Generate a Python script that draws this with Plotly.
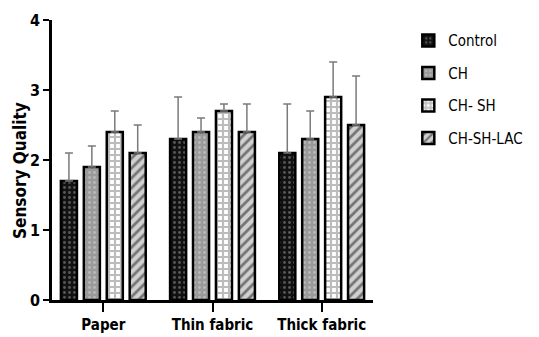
import plotly.graph_objects as go

categories = ["Paper", "Thin fabric", "Thick fabric"]
series_names = ["Control", "CH", "CH- SH", "CH-SH-LAC"]
control = [1.7, 2.3, 2.1]
ch = [1.9, 2.4, 2.3]
ch_sh = [2.4, 2.7, 2.9]
ch_sh_lac = [2.1, 2.4, 2.5]
control_err = [0.4, 0.6, 0.7]
ch_err = [0.3, 0.2, 0.4]
ch_sh_err = [0.3, 0.1, 0.5]
ch_sh_lac_err = [0.4, 0.4, 0.7]
y_ticks = [0, 1, 2, 3, 4]
y_title = "Sensory Quality"

values = [control, ch, ch_sh, ch_sh_lac]
errors = [control_err, ch_err, ch_sh_err, ch_sh_lac_err]
styles = [
    dict(bg="#111111", fg="#a0a0a0", shape=".", size=5, sol=0.25),
    dict(bg="#9a9a9a", fg="#d8d8d8", shape=".", size=5, sol=0.25),
    dict(bg="#ffffff", fg="#7a7a7a", shape="+", size=6, sol=0.6),
    dict(bg="#d0d0d0", fg="#1a1a1a", shape="/", size=7, sol=0.4),
]

COND = "DejaVu Sans Condensed, Liberation Sans Narrow, Arial Narrow, sans-serif"

fig = go.Figure()
for i, (name, vals, errs, st) in enumerate(zip(series_names, values, errors, styles)):
    fig.add_trace(go.Bar(
        x=list(range(len(categories))), y=vals, name=name,
        legendgroup=f"g{i}",
        marker=dict(
            color=st["bg"],
            line=dict(color="black", width=2.5),
            pattern=dict(shape=st["shape"], fgcolor=st["fg"], bgcolor=st["bg"],
                         size=st["size"], solidity=st["sol"], fillmode="overlay"),
        ),
        error_y=dict(type="data", array=errs, arrayminus=[0] * len(errs),
                     symmetric=False, color="#7a7a7a", thickness=1.5, width=4),
    ))

fig.add_annotation(
    text=f"<b>{y_title}</b>", xref="paper", yref="paper",
    x=-0.1, y=0.464, xanchor="center", yanchor="middle",
    textangle=-90, showarrow=False, font=dict(size=17, family=COND, color="black"),
)

fig.update_layout(
    width=531, height=329,
    margin=dict(l=44, r=166, t=12, b=37, autoexpand=False),
    plot_bgcolor="white", paper_bgcolor="white",
    barmode="group", bargap=0.16, bargroupgap=0.3,
    font=dict(family=COND, color="black"),
    showlegend=True,
    legend=dict(x=1.11, y=0.985, xanchor="left", yanchor="top",
                font=dict(size=15, family=COND),
                traceorder="grouped", tracegroupgap=10,
                itemwidth=30),
    xaxis=dict(
        tickmode="array", tickvals=list(range(len(categories))),
        ticktext=[f"<b>{c}</b>" for c in categories],
        range=[-0.47, 2.47], showline=True, linecolor="black", linewidth=2.5,
        ticks="outside", ticklen=9, tickwidth=2, tickcolor="black",
        tickfont=dict(size=15), showgrid=False, zeroline=False, automargin=False,
    ),
    yaxis=dict(
        range=[0, 4], tickvals=y_ticks, ticktext=[f"<b>{t}</b>" for t in y_ticks],
        showline=True, linecolor="black", linewidth=2.5,
        ticks="outside", ticklen=6, tickwidth=2, tickcolor="black",
        tickfont=dict(size=16), showgrid=False, zeroline=False, automargin=False,
    ),
)

fig.write_html("out.html")
